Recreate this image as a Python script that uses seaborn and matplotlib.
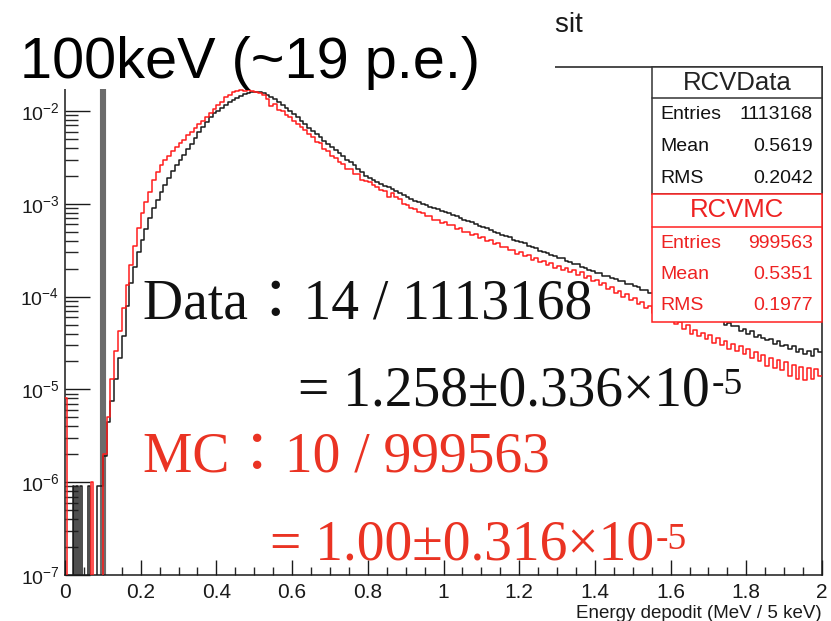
import numpy as np
import matplotlib
matplotlib.use('Agg')
import matplotlib.pyplot as plt
from matplotlib.patches import Rectangle
from matplotlib.lines import Line2D
from matplotlib.ticker import MultipleLocator, LogLocator, NullFormatter, FuncFormatter
import seaborn as sns

W, H = 831, 621

# energy bins (MeV): 5 keV below the 100 keV threshold, 10 keV above it
low_edges = np.round(np.arange(0, 0.1001, 0.005), 3)
main_edges = np.round(np.arange(0.1, 2.0001, 0.01), 3)

# fraction of entries per bin
data_low = [0, 0, 0, 0, 9e-7, 0, 9e-7, 0, 9e-7, 0,
            0, 0, 9e-7, 0, 0, 0, 0, 9e-7, 9e-7, 9e-7]
mc_low = [8e-6, 0, 0, 0, 0, 0, 0, 0, 0, 0,
          0, 0, 0, 0, 1e-6, 0, 0, 0, 0, 0]

data_main = [
    1.9e-6, 4.5e-6, 7.5e-6, 1.3e-5, 2.2e-5, 3.8e-5, 8.0e-5, 1.4e-4, 2.1e-4, 3.0e-4,
    4.1e-4, 5.4e-4, 7.0e-4, 9.0e-4, 1.1e-3, 1.35e-3, 1.6e-3, 1.9e-3, 2.25e-3, 2.6e-3,
    2.95e-3, 3.35e-3, 3.85e-3, 4.45e-3, 5.1e-3, 5.9e-3, 6.8e-3, 7.7e-3, 8.7e-3, 9.6e-3,
    0.0101, 0.0108, 0.0117, 0.0125, 0.0132, 0.0139, 0.0145, 0.0151, 0.0156, 0.0160,
    0.0161, 0.0159, 0.0155, 0.0150, 0.0143, 0.0135, 0.0126, 0.0117, 0.0109, 0.0101,
    0.0093, 0.0086, 0.0079, 0.0072, 0.0066, 0.0061, 0.0056, 0.0052, 0.0048, 0.0044,
    0.0041, 0.0038, 0.0035, 0.0033, 0.0030, 0.0028, 0.0026, 0.0024, 0.0022, 0.0020,
    1.92e-3, 1.82e-3, 1.72e-3, 1.64e-3, 1.57e-3, 1.50e-3, 1.43e-3, 1.36e-3, 1.30e-3, 1.24e-3,
    1.18e-3, 1.13e-3, 1.08e-3, 1.04e-3, 1.00e-3, 9.6e-4, 9.3e-4, 9.0e-4, 8.7e-4, 8.4e-4,
    8.1e-4, 7.9e-4, 7.5e-4, 7.3e-4, 7.1e-4, 6.7e-4, 6.5e-4, 6.3e-4, 6.1e-4, 5.8e-4,
    5.6e-4, 5.45e-4, 5.2e-4, 5.0e-4, 4.9e-4, 4.65e-4, 4.5e-4, 4.35e-4, 4.1e-4, 4.0e-4,
    3.85e-4, 3.75e-4, 3.5e-4, 3.45e-4, 3.3e-4, 3.1e-4, 3.05e-4, 2.98e-4, 2.82e-4, 2.75e-4,
    2.6e-4, 2.58e-4, 2.42e-4, 2.36e-4, 2.22e-4, 2.22e-4, 2.08e-4, 2.02e-4, 1.92e-4, 1.9e-4,
    1.8e-4, 1.78e-4, 1.66e-4, 1.67e-4, 1.57e-4, 1.56e-4, 1.47e-4, 1.46e-4, 1.37e-4, 1.36e-4,
    1.3e-4, 1.27e-4, 1.17e-4, 1.18e-4, 1.1e-4, 1.09e-4, 1.03e-4, 1.01e-4, 9.5e-5, 9.5e-5,
    8.8e-5, 8.9e-5, 8.1e-5, 8.2e-5, 7.6e-5, 7.5e-5, 7.0e-5, 7.1e-5, 6.4e-5, 6.6e-5,
    6.0e-5, 6.1e-5, 5.5e-5, 5.7e-5, 5.0e-5, 5.2e-5, 4.8e-5, 4.8e-5, 4.3e-5, 4.5e-5,
    4.0e-5, 4.3e-5, 3.7e-5, 3.9e-5, 3.6e-5, 3.4e-5, 3.5e-5, 3.1e-5, 3.3e-5, 2.9e-5,
    3.0e-5, 2.7e-5, 2.9e-5, 2.5e-5, 2.7e-5, 2.4e-5, 2.6e-5, 2.3e-5, 2.7e-5, 2.5e-5,
]

mc_main = [
    2.0e-6, 5.0e-6, 1.3e-5, 2.6e-5, 4.3e-5, 7.5e-5, 1.35e-4, 2.2e-4, 3.5e-4, 5.5e-4,
    8.0e-4, 1.05e-3, 1.35e-3, 1.8e-3, 2.2e-3, 2.6e-3, 3.0e-3, 3.3e-3, 3.7e-3, 4.1e-3,
    4.5e-3, 4.9e-3, 5.5e-3, 6.0e-3, 6.6e-3, 7.2e-3, 7.8e-3, 8.6e-3, 9.6e-3, 1.06e-2,
    0.0115, 0.0126, 0.0142, 0.0150, 0.0160, 0.0165, 0.0168, 0.0163, 0.0167, 0.0164,
    0.0162, 0.0158, 0.0148, 0.0136, 0.0112, 0.0118, 0.0102, 0.0099, 0.0090, 0.0086,
    0.0079, 0.0073, 0.0068, 0.0062, 0.0056, 0.0052, 0.0046, 0.0045, 0.0039, 0.0037,
    0.0033, 0.0031, 0.0028, 0.0027, 0.0024, 0.0024, 0.0021, 0.0021, 0.0018, 0.00178,
    1.7e-3, 1.6e-3, 1.53e-3, 1.42e-3, 1.38e-3, 1.18e-3, 1.3e-3, 1.18e-3, 1.13e-3, 1.0e-3,
    9.7e-4, 9.1e-4, 8.7e-4, 8.1e-4, 7.9e-4, 7.3e-4, 7.3e-4, 6.7e-4, 6.7e-4, 6.2e-4,
    6.3e-4, 5.9e-4, 5.9e-4, 5.4e-4, 5.5e-4, 5.0e-4, 5.0e-4, 4.6e-4, 4.7e-4, 4.3e-4,
    4.4e-4, 4.0e-4, 4.05e-4, 3.7e-4, 3.75e-4, 3.4e-4, 3.45e-4, 3.15e-4, 3.2e-4, 2.9e-4,
    3.0e-4, 2.75e-4, 2.8e-4, 2.5e-4, 2.6e-4, 2.35e-4, 2.4e-4, 2.2e-4, 2.3e-4, 2.05e-4,
    2.15e-4, 1.95e-4, 2.05e-4, 1.85e-4, 1.95e-4, 1.7e-4, 1.82e-4, 1.6e-4, 1.66e-4, 1.48e-4,
    1.52e-4, 1.35e-4, 1.4e-4, 1.22e-4, 1.28e-4, 1.1e-4, 1.16e-4, 1.0e-4, 1.06e-4, 9.3e-5,
    9.7e-5, 8.4e-5, 8.8e-5, 7.5e-5, 8.0e-5, 6.7e-5, 7.2e-5, 6.1e-5, 6.6e-5, 5.6e-5,
    6.0e-5, 5.1e-5, 5.3e-5, 4.5e-5, 4.9e-5, 4.0e-5, 4.4e-5, 3.8e-5, 4.1e-5, 3.5e-5,
    3.9e-5, 3.2e-5, 3.6e-5, 3.0e-5, 3.3e-5, 2.7e-5, 3.1e-5, 2.6e-5, 2.9e-5, 2.4e-5,
    2.7e-5, 2.2e-5, 2.5e-5, 2.0e-5, 2.35e-5, 1.8e-5, 2.2e-5, 1.7e-5, 2.05e-5, 1.6e-5,
    1.95e-5, 1.4e-5, 1.85e-5, 1.3e-5, 1.75e-5, 1.25e-5, 1.7e-5, 1.3e-5, 1.65e-5, 1.4e-5,
]

# stat boxes
data_stats = [('Entries', '1113168'), ('Mean', '0.5619'), ('RMS', '0.2042')]
mc_stats = [('Entries', '999563'), ('Mean', '0.5351'), ('RMS', '0.1977')]

sns.set_theme(style='ticks')
plt.rcParams['font.family'] = ['Liberation Sans', 'DejaVu Sans']
plt.rcParams['mathtext.fontset'] = 'custom'
plt.rcParams['mathtext.rm'] = 'Liberation Sans'
plt.rcParams['mathtext.it'] = 'Liberation Sans:italic'
plt.rcParams['mathtext.bf'] = 'Liberation Sans:bold'


def fx(px):
    return px / W


def fy(py):
    return 1 - py / H


fig = plt.figure(figsize=(W / 100, H / 100), dpi=100)
ax = fig.add_axes([fx(65), fy(575), (822 - 65) / W, (575 - 67) / H])

edges = np.concatenate([low_edges, main_edges[1:]])
data_vals = np.array(data_low + data_main)
mc_vals = np.array(mc_low + mc_main)

# threshold line at 100 keV
ax.axvline(0.1, color='#6b6b6b', lw=4.4, zorder=1)

# step histograms: one value per bin, repeated on the last edge
sns.lineplot(x=edges, y=np.append(data_vals, data_vals[-1]), estimator=None, sort=False,
             drawstyle='steps-post', color='#1a1a1a', lw=1.1, ax=ax, zorder=2)
sns.lineplot(x=edges, y=np.append(mc_vals, mc_vals[-1]), estimator=None, sort=False,
             drawstyle='steps-post', color='#ff1c1c', lw=1.1, ax=ax, zorder=3)

ax.set_yscale('log')
ax.set_xlim(0, 2)
ax.set_ylim(1e-7, 0.0298)
ax.set_xlabel('')
ax.set_ylabel('')

# ROOT-like axes
ax.xaxis.set_major_locator(MultipleLocator(0.2))
ax.xaxis.set_minor_locator(MultipleLocator(0.05))
ax.xaxis.set_major_formatter(FuncFormatter(lambda v, p: f'{v:g}'))
ax.yaxis.set_major_locator(LogLocator(base=10, numticks=20))
ax.yaxis.set_minor_locator(LogLocator(base=10, subs=np.arange(2, 10), numticks=20))
ax.yaxis.set_minor_formatter(NullFormatter())
ax.tick_params(axis='x', which='major', direction='in', length=11, width=1,
               labelsize=15, pad=6, top=False, colors='#1a1a1a')
ax.tick_params(axis='x', which='minor', direction='in', length=6, width=1, top=False)
ax.tick_params(axis='y', which='major', direction='in', length=18, width=1,
               labelsize=14, pad=4, right=False, colors='#1a1a1a')
ax.tick_params(axis='y', which='minor', direction='in', length=9.5, width=1, right=False)
for s in ax.spines.values():
    s.set_color('#1a1a1a')
    s.set_linewidth(1.1)

# ROOT title, mostly hidden behind the slide label
fig.text(fx(583), fy(32), 'Energy deposit', ha='right', va='baseline',
         fontsize=20, color='#1a1a1a', zorder=3)
fig.text(fx(822), fy(618), 'Energy depodit (MeV / 5 keV)', ha='right', va='baseline',
         fontsize=13.5, color='#1a1a1a')

# stat boxes
fig.add_artist(Rectangle((fx(652), fy(194)), (822 - 652) / W, (194 - 67) / H,
                         transform=fig.transFigure, facecolor='white',
                         edgecolor='#333333', lw=1.1, zorder=10))
fig.add_artist(Line2D([fx(652), fx(822)], [fy(98), fy(98)], transform=fig.transFigure,
                      color='#333333', lw=1.1, zorder=11))
fig.text(fx(737), fy(83), 'RCVData', ha='center', va='center', fontsize=18.5,
         color='#222222', zorder=12)
for i, (k, v) in enumerate(data_stats):
    y = 115 + i * 32
    fig.text(fx(660), fy(y), k, ha='left', va='center', fontsize=14, color='#111111', zorder=12)
    fig.text(fx(813), fy(y), v, ha='right', va='center', fontsize=14, color='#111111', zorder=12)

fig.add_artist(Rectangle((fx(652), fy(322)), (822 - 652) / W, (322 - 194) / H,
                         transform=fig.transFigure, facecolor='white',
                         edgecolor='#ff2020', lw=1.1, zorder=10))
fig.add_artist(Line2D([fx(652), fx(822)], [fy(227), fy(227)], transform=fig.transFigure,
                      color='#ff2020', lw=1.1, zorder=11))
fig.text(fx(737), fy(210), 'RCVMC', ha='center', va='center', fontsize=18.5,
         color='#ee2222', zorder=12)
for i, (k, v) in enumerate(mc_stats):
    y = 243 + i * 31.5
    fig.text(fx(660), fy(y), k, ha='left', va='center', fontsize=14, color='#ee2222', zorder=12)
    fig.text(fx(813), fy(y), v, ha='right', va='center', fontsize=14, color='#ee2222', zorder=12)

# slide label on a white patch
fig.add_artist(Rectangle((0, fy(89)), 555 / W, 89 / H, transform=fig.transFigure,
                         facecolor='white', edgecolor='none', zorder=10))
fig.text(fx(20), fy(78), '100keV (~19 p.e.)', ha='left', va='baseline', fontsize=41.5,
         color='black', zorder=12)

# efficiency annotations
serif = ['Liberation Serif', 'Noto Sans CJK JP']
black_txt = '#111111'
red_txt = '#ea3323'
fig.text(fx(143), fy(318), 'Data：14 / 1113168', ha='left', va='baseline',
         fontsize=40, family=serif, color=black_txt, zorder=12)
t1 = fig.text(fx(298), fy(405), '= 1.258±0.336×10', ha='left', va='baseline',
              fontsize=40, family=serif, color=black_txt, zorder=12)
fig.text(fx(143), fy(472), 'MC：10 / 999563', ha='left', va='baseline',
         fontsize=40, family=serif, color=red_txt, zorder=12)
t2 = fig.text(fx(270), fy(560), '= 1.00±0.316×10', ha='left', va='baseline',
              fontsize=40, family=serif, color=red_txt, zorder=12)
for t, c in [(t1, black_txt), (t2, red_txt)]:
    ax.annotate('-5', xy=(1, 1), xycoords=t, xytext=(1, -2), textcoords='offset points',
                ha='left', va='top', fontsize=27, family=serif, color=c,
                annotation_clip=False)

fig.savefig('out.png', dpi=100)
